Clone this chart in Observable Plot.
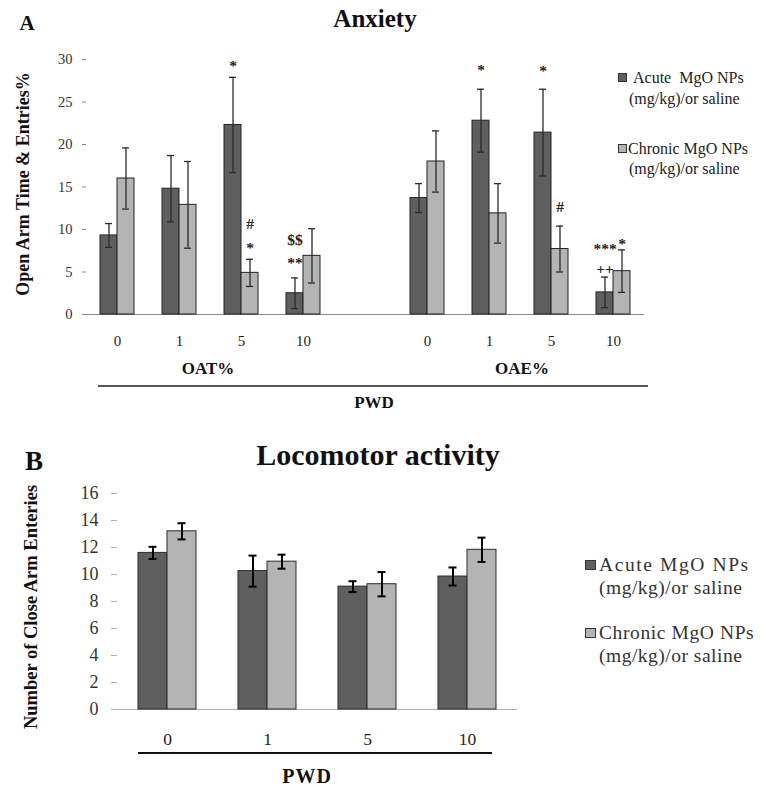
<!DOCTYPE html>
<html>
<head>
<meta charset="utf-8">
<script src="https://cdn.jsdelivr.net/npm/d3@7"></script>
<script src="https://cdn.jsdelivr.net/npm/@observablehq/plot@0.6"></script>
<style>
  html, body { margin: 0; padding: 0; background: #fff; }
  #root { position: relative; width: 762px; height: 786px; background: #fff; overflow: hidden; }
  #root svg { position: absolute; left: 0; }
  .lbl { position: absolute; white-space: pre; line-height: 1; font-family: "Liberation Serif", "DejaVu Serif", serif; color: #111; }
</style>
</head>
<body>
<div id="root"></div>
<script>
// ---------- data ----------
const doses = ["0", "1", "5", "10"];
const tests = ["OAT%", "OAE%"];
const seriesKeys = ["Acute", "Chronic"];
const legendTop = ["Acute  MgO NPs", "Chronic MgO NPs"];
const legendBottom = ["Acute MgO NPs", "Chronic MgO NPs"];
const legendSub = "(mg/kg)/or saline";

// Panel A: Anxiety (open arm time % and open arm entries %)
const acuteOAT = [9.3, 14.8, 22.3, 2.5];
const acuteOATerr = [1.4, 3.9, 5.6, 1.8];
const chronicOAT = [16.0, 12.9, 4.9, 6.9];
const chronicOATerr = [3.6, 5.1, 1.6, 3.2];
const acuteOAE = [13.7, 22.8, 21.4, 2.6];
const acuteOAEerr = [1.7, 3.7, 5.1, 1.8];
const chronicOAE = [18.0, 11.9, 7.7, 5.1];
const chronicOAEerr = [3.6, 3.5, 2.7, 2.5];
const yTicksTop = [0, 5, 10, 15, 20, 25, 30];

// significance marks: test, dose, series, label, height (in y units)
const annTest = ["OAT%", "OAT%", "OAT%", "OAT%", "OAT%", "OAE%", "OAE%", "OAE%", "OAE%", "OAE%", "OAE%"];
const annDose = ["5", "5", "5", "10", "10", "1", "5", "5", "10", "10", "10"];
const annSeries = ["Acute", "Chronic", "Chronic", "Acute", "Acute", "Acute", "Acute", "Chronic", "Acute", "Acute", "Chronic"];
const annLabel = ["*", "#", "*", "$$", "**", "*", "*", "#", "***", "++", "*"];
const annY = [29.2, 10.7, 7.8, 8.8, 6.0, 28.8, 28.7, 12.6, 7.7, 5.3, 8.3];

// Panel B: Locomotor activity
const acuteLoco = [11.6, 10.25, 9.1, 9.85];
const acuteLocoErr = [0.45, 1.15, 0.4, 0.67];
const chronicLoco = [13.2, 10.95, 9.28, 11.83];
const chronicLocoErr = [0.6, 0.52, 0.9, 0.9];
const yTicksBottom = [0, 2, 4, 6, 8, 10, 12, 14, 16];

const colors = ["#5f5f5f", "#b4b4b4"];
const FONT = "'Liberation Serif', 'DejaVu Serif', serif";

// ---------- build tables ----------
const topValues = {
  "OAT%": [[acuteOAT, acuteOATerr], [chronicOAT, chronicOATerr]],
  "OAE%": [[acuteOAE, acuteOAEerr], [chronicOAE, chronicOAEerr]]
};
const slotsTop = [];
tests.forEach((t, ti) => {
  doses.forEach(d => slotsTop.push(t + "|" + d));
  if (ti === 0) slotsTop.push("gap");
});
const topRows = [];
tests.forEach(t => doses.forEach((d, di) => seriesKeys.forEach((s, si) => {
  const [vals, errs] = topValues[t][si];
  topRows.push({slot: t + "|" + d, series: s, v: vals[di], e: errs[di]});
})));
const annRows = annLabel.map((l, i) => ({slot: annTest[i] + "|" + annDose[i], series: annSeries[i], label: l, y: annY[i]}));

const botRows = [];
doses.forEach((d, di) => {
  botRows.push({dose: d, series: "Acute", v: acuteLoco[di], e: acuteLocoErr[di]});
  botRows.push({dose: d, series: "Chronic", v: chronicLoco[di], e: chronicLocoErr[di]});
});

const root = document.getElementById("root");

// ---------- Panel A ----------
const plotA = Plot.plot({
  width: 762, height: 400,
  marginLeft: 82, marginRight: 114, marginTop: 59, marginBottom: 86,
  style: {fontFamily: FONT, background: "transparent", overflow: "visible"},
  fx: {domain: slotsTop, padding: 0},
  x: {domain: seriesKeys, paddingInner: 0, paddingOuter: 0.75, axis: null},
  y: {domain: [0, 30]},
  color: {domain: seriesKeys, range: colors},
  marks: [
    Plot.axisY({ticks: yTicksTop, tickSize: 4, tickPadding: 10, fontSize: 14.5, fill: "#333", stroke: "#8a8a8a", line: true, label: null}),
    Plot.axisFx({anchor: "bottom", tickSize: 0, tickPadding: 21, fontSize: 15, fill: "#222", label: null,
      tickFormat: s => s.includes("|") ? s.split("|")[1] : ""}),
    Plot.ruleY(slotsTop, {fx: d => d, y: () => 0, stroke: "#8a8a8a", strokeWidth: 1}),
    Plot.barY(topRows, {fx: "slot", x: "series", y: "v", fill: "series", stroke: "#222", strokeWidth: 1}),
    Plot.ruleX(topRows, {fx: "slot", x: "series", y1: d => d.v - d.e, y2: d => d.v + d.e, stroke: "#2a2a2a", strokeWidth: 1.3}),
    Plot.tickY(topRows, {fx: "slot", x: "series", y: d => d.v + d.e, insetLeft: 5, insetRight: 5, stroke: "#2a2a2a", strokeWidth: 1.3}),
    Plot.tickY(topRows, {fx: "slot", x: "series", y: d => d.v - d.e, insetLeft: 5, insetRight: 5, stroke: "#2a2a2a", strokeWidth: 1.3}),
    Plot.text(annRows, {fx: "slot", x: "series", y: "y", text: "label", fontSize: 15.5, fontWeight: "bold", fill: "#222"})
  ]
});
plotA.style.top = "0px";
root.appendChild(plotA);

// ---------- Panel B ----------
const plotB = Plot.plot({
  width: 762, height: 366,
  marginLeft: 117, marginRight: 245, marginTop: 73, marginBottom: 77,
  style: {fontFamily: FONT, background: "transparent", overflow: "visible"},
  fx: {domain: doses, padding: 0},
  x: {domain: seriesKeys, paddingInner: 0, paddingOuter: 0.72, axis: null},
  y: {domain: [0, 16]},
  color: {domain: seriesKeys, range: colors},
  marks: [
    Plot.axisY({ticks: yTicksBottom, tickSize: 6, tickPadding: 13, fontSize: 18, fill: "#333", stroke: "#b0b0b0", line: true, label: null}),
    Plot.axisFx({anchor: "bottom", tickSize: 0, tickPadding: 23, fontSize: 17.5, fill: "#222", label: null}),
    Plot.ruleY(doses, {fx: d => d, y: () => 0, stroke: "#b0b0b0", strokeWidth: 1.2}),
    Plot.barY(botRows, {fx: "dose", x: "series", y: "v", fill: "series", stroke: "#2a2a2a", strokeWidth: 1}),
    Plot.ruleX(botRows, {fx: "dose", x: "series", y1: d => d.v - d.e, y2: d => d.v + d.e, stroke: "#000", strokeWidth: 2}),
    Plot.tickY(botRows, {fx: "dose", x: "series", y: d => d.v + d.e, insetLeft: 10.5, insetRight: 10.5, stroke: "#000", strokeWidth: 2}),
    Plot.tickY(botRows, {fx: "dose", x: "series", y: d => d.v - d.e, insetLeft: 10.5, insetRight: 10.5, stroke: "#000", strokeWidth: 2})
  ]
});
plotB.style.top = "420px";
root.appendChild(plotB);

// ---------- text overlays ----------
function label(text, x, y, css, anchor = "middle", rotate = false) {
  const el = document.createElement("div");
  el.className = "lbl";
  el.textContent = text;
  el.style.left = x + "px";
  el.style.top = y + "px";
  el.style.cssText += css;
  const tx = anchor === "middle" ? "-50%" : anchor === "start" ? "0" : "-100%";
  el.style.transform = rotate ? "translate(-50%,-50%) rotate(-90deg)" : `translate(${tx},-50%)`;
  root.appendChild(el);
  return el;
}
function hline(x1, x2, y, w, color) {
  const el = document.createElement("div");
  el.style.cssText = `position:absolute;left:${x1}px;top:${y - w / 2}px;width:${x2 - x1}px;height:${w}px;background:${color};`;
  root.appendChild(el);
}
function swatch(x, y, w, h, fill) {
  const el = document.createElement("div");
  el.style.cssText = `position:absolute;left:${x}px;top:${y}px;width:${w}px;height:${h}px;background:${fill};border:1px solid #333;box-sizing:border-box;`;
  root.appendChild(el);
}

// Panel A texts
label("A", 27, 23, "font-weight:bold;font-size:21px;");
label("Anxiety", 375, 18, "font-weight:bold;font-size:25px;");
label("Open Arm Time & Entries%", 23, 184, "font-weight:bold;font-size:18px;", "middle", true);
label(tests[0], 208, 368, "font-weight:bold;font-size:17px;");
label(tests[1], 522, 368, "font-weight:bold;font-size:17px;");
hline(98, 648, 386, 1.5, "#555");
label("PWD", 374, 402, "font-weight:bold;font-size:17px;");
swatch(618, 73, 9, 9, colors[0]);
label(legendTop[0], 633, 78, "font-size:16px;color:#222;", "start");
label(legendSub, 629, 99, "font-size:16px;color:#222;", "start");
swatch(618, 144, 9, 9, colors[1]);
label(legendTop[1], 628, 149, "font-size:16px;color:#222;", "start");
label(legendSub, 629, 169, "font-size:16px;color:#222;", "start");

// Panel B texts
label("B", 34, 461, "font-weight:bold;font-size:27px;");
label("Locomotor activity", 378, 455, "font-weight:bold;font-size:30px;");
label("Number of Close Arm Enteries", 31, 607, "font-weight:bold;font-size:18.5px;", "middle", true);
hline(138, 492, 753, 1.5, "#111");
label("PWD", 307, 776, "font-weight:bold;font-size:20px;letter-spacing:1px;");
swatch(585, 560, 11, 10, colors[0]);
label(legendBottom[0], 599, 565, "font-size:19.5px;color:#333;letter-spacing:1.6px;", "start");
label(legendSub, 599, 588, "font-size:19.5px;color:#333;letter-spacing:0.5px;", "start");
swatch(585, 628, 11, 10, colors[1]);
label(legendBottom[1], 599, 633, "font-size:19.5px;color:#333;letter-spacing:0.6px;", "start");
label(legendSub, 599, 656, "font-size:19.5px;color:#333;letter-spacing:0.5px;", "start");
</script>
</body>
</html>
